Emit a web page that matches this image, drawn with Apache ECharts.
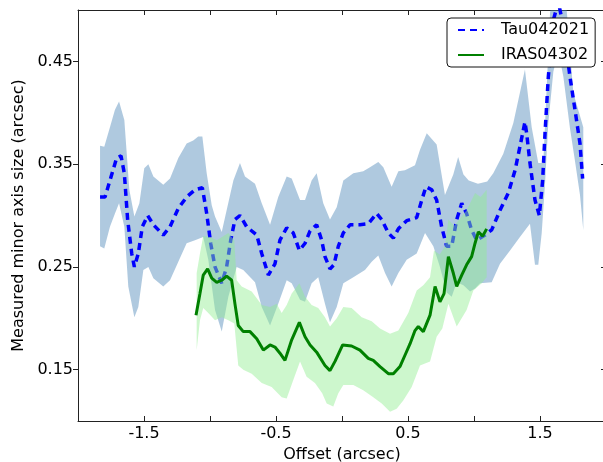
<!DOCTYPE html>
<html>
<head>
<meta charset="utf-8">
<script src="https://cdn.jsdelivr.net/npm/echarts@6/dist/echarts.min.js"></script>
<style>
html,body{margin:0;padding:0;background:#fff;}
#chart{width:603px;height:462px;}
</style>
</head>
<body>
<div id="chart"></div>
<script>
// ---- data ----
const seriesNames = ['Tau042021', 'IRAS04302'];

const tauLine = [[-1.833,0.318],[-1.795,0.318],[-1.758,0.334],[-1.707,0.356],[-1.674,0.358],[-1.649,0.341],[-1.624,0.296],[-1.593,0.263],[-1.573,0.250],[-1.543,0.263],[-1.513,0.289],[-1.472,0.300],[-1.429,0.291],[-1.354,0.281],[-1.303,0.289],[-1.240,0.307],[-1.177,0.318],[-1.114,0.325],[-1.058,0.327],[-1.025,0.302],[-0.995,0.273],[-0.962,0.250],[-0.911,0.234],[-0.874,0.250],[-0.843,0.276],[-0.811,0.296],[-0.773,0.300],[-0.722,0.289],[-0.646,0.281],[-0.608,0.263],[-0.558,0.242],[-0.508,0.253],[-0.470,0.276],[-0.419,0.288],[-0.369,0.283],[-0.323,0.266],[-0.280,0.273],[-0.242,0.285],[-0.192,0.291],[-0.154,0.276],[-0.129,0.260],[-0.091,0.248],[-0.061,0.252],[-0.028,0.270],[0.010,0.283],[0.061,0.291],[0.136,0.291],[0.199,0.292],[0.263,0.302],[0.301,0.296],[0.351,0.283],[0.389,0.278],[0.427,0.287],[0.490,0.295],[0.566,0.298],[0.604,0.315],[0.636,0.328],[0.680,0.325],[0.717,0.315],[0.755,0.289],[0.793,0.270],[0.831,0.270],[0.869,0.296],[0.907,0.312],[0.944,0.302],[0.982,0.286],[1.020,0.276],[1.083,0.281],[1.134,0.286],[1.197,0.305],[1.260,0.322],[1.311,0.344],[1.348,0.367],[1.386,0.391],[1.399,0.380],[1.424,0.351],[1.462,0.315],[1.495,0.300],[1.520,0.334],[1.538,0.380],[1.563,0.435],[1.601,0.490],[1.639,0.508],[1.677,0.484],[1.727,0.435],[1.765,0.403],[1.803,0.370],[1.823,0.336]];

const tauUpper = [[-1.833,0.368],[-1.801,0.367],[-1.758,0.386],[-1.720,0.403],[-1.689,0.411],[-1.649,0.393],[-1.611,0.325],[-1.573,0.299],[-1.535,0.312],[-1.498,0.346],[-1.467,0.350],[-1.429,0.338],[-1.354,0.330],[-1.303,0.336],[-1.240,0.356],[-1.177,0.370],[-1.127,0.373],[-1.089,0.377],[-1.058,0.377],[-1.025,0.341],[-0.987,0.310],[-0.962,0.299],[-0.911,0.284],[-0.874,0.305],[-0.823,0.334],[-0.773,0.351],[-0.735,0.338],[-0.659,0.331],[-0.608,0.312],[-0.545,0.291],[-0.483,0.318],[-0.419,0.338],[-0.381,0.336],[-0.318,0.315],[-0.280,0.315],[-0.230,0.334],[-0.192,0.341],[-0.142,0.312],[-0.091,0.296],[-0.040,0.308],[0.010,0.334],[0.086,0.341],[0.161,0.343],[0.212,0.347],[0.275,0.352],[0.313,0.347],[0.376,0.328],[0.427,0.343],[0.477,0.344],[0.553,0.349],[0.591,0.364],[0.642,0.380],[0.717,0.369],[0.780,0.320],[0.843,0.340],[0.880,0.357],[0.920,0.340],[0.960,0.334],[1.030,0.331],[1.100,0.333],[1.146,0.341],[1.222,0.360],[1.298,0.390],[1.386,0.442],[1.437,0.386],[1.487,0.351],[1.525,0.351],[1.576,0.497],[1.620,0.545],[1.680,0.535],[1.753,0.419],[1.828,0.386]];

const tauLower = [[-1.833,0.270],[-1.801,0.268],[-1.758,0.289],[-1.720,0.302],[-1.689,0.312],[-1.649,0.289],[-1.619,0.231],[-1.573,0.201],[-1.543,0.211],[-1.505,0.247],[-1.467,0.250],[-1.429,0.239],[-1.354,0.231],[-1.303,0.237],[-1.240,0.255],[-1.177,0.273],[-1.114,0.276],[-1.051,0.279],[-1.013,0.257],[-0.962,0.208],[-0.911,0.187],[-0.861,0.221],[-0.798,0.250],[-0.748,0.247],[-0.659,0.235],[-0.608,0.211],[-0.545,0.193],[-0.483,0.214],[-0.419,0.237],[-0.381,0.234],[-0.318,0.218],[-0.280,0.216],[-0.230,0.234],[-0.180,0.240],[-0.129,0.214],[-0.091,0.196],[-0.040,0.211],[0.010,0.234],[0.086,0.240],[0.174,0.247],[0.225,0.255],[0.275,0.261],[0.326,0.244],[0.376,0.231],[0.427,0.244],[0.490,0.257],[0.566,0.263],[0.629,0.283],[0.692,0.270],[0.742,0.250],[0.793,0.225],[0.831,0.221],[0.869,0.235],[0.920,0.232],[0.970,0.226],[1.008,0.229],[1.046,0.234],[1.134,0.235],[1.197,0.253],[1.273,0.266],[1.348,0.279],[1.424,0.292],[1.462,0.252],[1.487,0.252],[1.513,0.283],[1.538,0.331],[1.563,0.390],[1.601,0.440],[1.639,0.460],[1.677,0.435],[1.727,0.385],[1.765,0.353],[1.803,0.320],[1.828,0.286]];

const irasLine = [[-1.106,0.203],[-1.076,0.224],[-1.051,0.242],[-1.018,0.248],[-0.987,0.239],[-0.949,0.235],[-0.911,0.237],[-0.874,0.241],[-0.836,0.237],[-0.811,0.214],[-0.786,0.193],[-0.748,0.187],[-0.697,0.187],[-0.646,0.180],[-0.596,0.169],[-0.545,0.174],[-0.508,0.172],[-0.470,0.166],[-0.432,0.159],[-0.381,0.179],[-0.323,0.196],[-0.280,0.182],[-0.242,0.174],[-0.192,0.167],[-0.129,0.154],[-0.091,0.149],[-0.053,0.158],[0.005,0.174],[0.073,0.173],[0.136,0.169],[0.199,0.161],[0.237,0.159],[0.288,0.153],[0.351,0.146],[0.389,0.146],[0.439,0.153],[0.477,0.164],[0.515,0.175],[0.553,0.188],[0.578,0.192],[0.616,0.187],[0.667,0.203],[0.705,0.231],[0.742,0.216],[0.773,0.224],[0.806,0.260],[0.843,0.244],[0.869,0.231],[0.907,0.242],[0.944,0.252],[0.982,0.260],[1.008,0.273],[1.033,0.284],[1.066,0.280],[1.096,0.287]];

const irasUpper = [[-1.101,0.244],[-1.076,0.263],[-1.051,0.280],[-1.000,0.279],[-0.949,0.276],[-0.861,0.283],[-0.816,0.276],[-0.798,0.237],[-0.760,0.231],[-0.684,0.226],[-0.608,0.213],[-0.545,0.211],[-0.495,0.214],[-0.457,0.205],[-0.419,0.213],[-0.381,0.224],[-0.323,0.234],[-0.280,0.221],[-0.230,0.213],[-0.180,0.210],[-0.129,0.201],[-0.091,0.192],[-0.040,0.200],[0.010,0.211],[0.073,0.210],[0.149,0.201],[0.225,0.197],[0.288,0.190],[0.364,0.185],[0.427,0.188],[0.502,0.205],[0.566,0.227],[0.616,0.232],[0.667,0.240],[0.697,0.266],[0.740,0.262],[0.780,0.270],[0.806,0.296],[0.850,0.290],[0.944,0.305],[1.008,0.322],[1.050,0.318],[1.096,0.325]];

const irasLower = [[-1.101,0.169],[-1.076,0.198],[-1.051,0.210],[-1.013,0.205],[-0.962,0.198],[-0.911,0.201],[-0.861,0.198],[-0.816,0.195],[-0.786,0.154],[-0.748,0.150],[-0.684,0.146],[-0.608,0.137],[-0.533,0.133],[-0.457,0.123],[-0.419,0.122],[-0.369,0.140],[-0.318,0.158],[-0.268,0.143],[-0.205,0.137],[-0.150,0.127],[-0.116,0.117],[-0.066,0.114],[-0.028,0.127],[0.010,0.135],[0.086,0.135],[0.161,0.130],[0.237,0.123],[0.301,0.117],[0.364,0.109],[0.414,0.112],[0.464,0.120],[0.528,0.133],[0.591,0.154],[0.667,0.158],[0.717,0.182],[0.760,0.190],[0.806,0.214],[0.869,0.192],[0.944,0.208],[0.995,0.227],[1.058,0.234],[1.096,0.240]];

const xTickVals = [-1.5, -1.0, -0.5, 0.0, 0.5, 1.0, 1.5];
const xLabelVals = [-1.5, -0.5, 0.5, 1.5];
const yTickVals = [0.15, 0.25, 0.35, 0.45];

// ---- chart ----
const chart = echarts.init(document.getElementById('chart'), null, {renderer: 'canvas'});
const FONT = 'DejaVu Sans';

function band(upper, lower, color) {
  return {
    type: 'custom',
    clip: true,
    silent: true,
    data: [[0, 0.3]],
    renderItem: function (params, api) {
      const pts = [];
      upper.forEach(p => pts.push(api.coord(p)));
      for (let i = lower.length - 1; i >= 0; i--) pts.push(api.coord(lower[i]));
      return {type: 'polygon', shape: {points: pts}, style: {fill: color}};
    }
  };
}

const axisLineStyle = {color: '#222', width: 1};

chart.setOption({
  animation: false,
  backgroundColor: '#fff',
  textStyle: {fontFamily: FONT},
  grid: {left: 78, top: 10, right: -3, bottom: 41, containLabel: false, outerBoundsMode: 'none'},
  legend: {
    orient: 'vertical',
    left: 447, top: 18,
    data: seriesNames,
    itemWidth: 26, itemHeight: 14, itemGap: 9,
    padding: [4, 6, 4, 10],
    borderColor: '#111', borderWidth: 1, borderRadius: 4,
    backgroundColor: '#fff',
    itemStyle: {opacity: 0},
    textStyle: {fontFamily: FONT, fontSize: 16, color: '#000', padding: [0, 0, 0, 12]}
  },
  xAxis: [{
    type: 'value', min: -2, max: 2, position: 'bottom',
    name: 'Offset (arcsec)', nameLocation: 'middle', nameGap: 24,
    nameTextStyle: {fontFamily: FONT, fontSize: 16, color: '#000'},
    axisLine: {show: true, onZero: false, lineStyle: axisLineStyle},
    axisTick: {show: true, inside: true, length: 5, customValues: xTickVals, lineStyle: axisLineStyle},
    axisLabel: {show: true, customValues: xLabelVals, fontFamily: FONT, fontSize: 16, color: '#000', margin: 5,
      formatter: v => (v < 0 ? '-' : '') + Math.abs(v).toFixed(1)},
    splitLine: {show: false}
  }, {
    type: 'value', min: -2, max: 2, position: 'top',
    axisLine: {show: true, onZero: false, lineStyle: axisLineStyle},
    axisTick: {show: true, inside: true, length: 5, customValues: xTickVals, lineStyle: axisLineStyle},
    axisLabel: {show: false},
    splitLine: {show: false}
  }],
  yAxis: [{
    type: 'value', min: 0.1, max: 0.5, position: 'left',
    name: 'Measured minor axis size (arcsec)', nameLocation: 'middle', nameGap: 45,
    nameTextStyle: {fontFamily: FONT, fontSize: 16, color: '#000'},
    axisLine: {show: true, onZero: false, lineStyle: axisLineStyle},
    axisTick: {show: true, inside: false, length: 5, customValues: yTickVals, lineStyle: axisLineStyle},
    axisLabel: {show: true, customValues: yTickVals, fontFamily: FONT, fontSize: 16, color: '#000', margin: 5,
      formatter: v => v.toFixed(2)},
    splitLine: {show: false}
  }, {
    type: 'value', min: 0.1, max: 0.5, position: 'right',
    axisLine: {show: true, onZero: false, lineStyle: axisLineStyle},
    axisTick: {show: true, inside: true, length: 5, customValues: yTickVals, lineStyle: axisLineStyle},
    axisLabel: {show: false},
    splitLine: {show: false}
  }],
  series: [
    Object.assign(band(tauUpper, tauLower, 'rgba(70,130,180,0.43)'), {name: 'tauBand', z: 1}),
    {
      name: seriesNames[0], type: 'line', data: tauLine, z: 2,
      showSymbol: false, symbol: 'none', clip: true,
      lineStyle: {color: '#0000ff', width: 3.5, type: [7, 5], cap: 'butt'},
      itemStyle: {color: '#0000ff'}
    },
    Object.assign(band(irasUpper, irasLower, 'rgba(144,238,144,0.45)'), {name: 'irasBand', z: 3}),
    {
      name: seriesNames[1], type: 'line', data: irasLine, z: 4,
      showSymbol: false, symbol: 'none', clip: true,
      lineStyle: {color: '#008000', width: 3},
      itemStyle: {color: '#008000'}
    }
  ]
});
</script>
</body>
</html>
